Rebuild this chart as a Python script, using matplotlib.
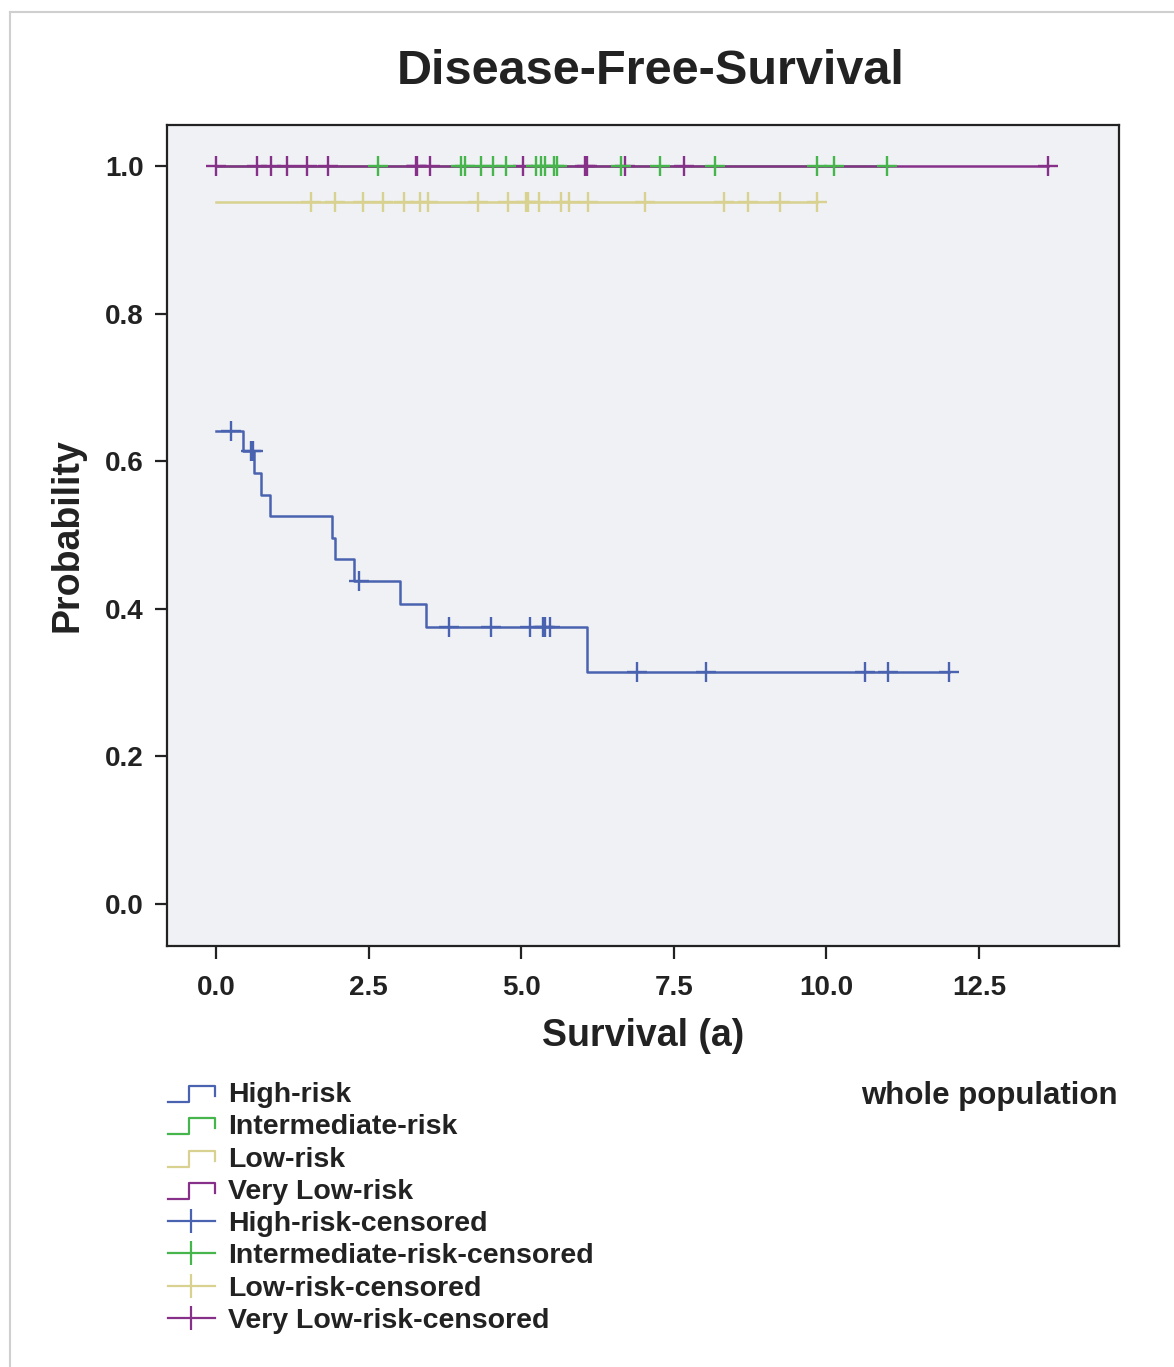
import numpy as np
import matplotlib
matplotlib.use("Agg")
import matplotlib.pyplot as plt
from matplotlib.lines import Line2D
from matplotlib.legend_handler import HandlerBase

plt.rcParams["font.family"] = ["Liberation Sans", "DejaVu Sans"]
plt.rcParams["font.weight"] = "bold"

# ── Data ────────────────────────────────────────────────────────
groups = ["High-risk", "Intermediate-risk", "Low-risk", "Very Low-risk"]
colors = ["#4a63b0", "#45b54c", "#d8d18f", "#86308a"]

# step (event) times and survival after each step
high_start = 0.641
high_event_t = [0.45, 0.63, 0.74, 0.88, 1.91, 1.95, 2.27, 3.01, 3.44, 6.07]
high_event_s = [0.614, 0.584, 0.555, 0.526, 0.496, 0.467, 0.438, 0.407, 0.376, 0.314]
high_cens = [0.24, 0.58, 0.61, 2.34, 3.81, 4.51, 5.14, 5.36, 5.39, 5.47,
             6.89, 8.03, 10.63, 11.01, 12.01]

inter_start = 1.0
inter_cens = [2.66, 4.01, 4.08, 4.35, 4.54, 4.75, 5.25, 5.32, 5.39, 5.54,
              5.59, 6.64, 7.28, 8.17, 9.85, 10.13, 10.99]

low_start = 0.952
low_cens = [1.55, 1.95, 2.41, 2.73, 3.08, 3.34, 3.48, 4.30, 4.79, 5.08,
            5.11, 5.30, 5.65, 5.78, 6.10, 7.03, 8.32, 8.71, 9.24, 9.85]

vlow_start = 1.0
vlow_cens = [0.0, 0.67, 0.91, 1.17, 1.49, 1.84, 3.27, 3.30, 3.51, 5.03,
             6.04, 6.07, 6.70, 7.67, 13.62]

series = [
    (high_start, high_event_t, high_event_s, high_cens),
    (inter_start, [], [], inter_cens),
    (low_start, [], [], low_cens),
    (vlow_start, [], [], vlow_cens),
]

x_ticks = [0.0, 2.5, 5.0, 7.5, 10.0, 12.5]
y_ticks = [0.0, 0.2, 0.4, 0.6, 0.8, 1.0]


class StepHandler(HandlerBase):
    def create_artists(self, legend, orig_handle, xdescent, ydescent,
                       width, height, fontsize, trans):
        x0 = -xdescent
        y0 = -ydescent
        xs = [x0, x0 + 0.45 * width, x0 + 0.45 * width, x0 + width, x0 + width]
        ys = [y0 + 0.0 * height, y0 + 0.0 * height, y0 + 0.8 * height,
              y0 + 0.8 * height, y0 + 0.3 * height]
        ln = Line2D(xs, ys, color=orig_handle.get_color(), lw=1.6,
                    transform=trans)
        return [ln]


# ── Figure ──────────────────────────────────────────────────────
fig = plt.figure(figsize=(11.74, 13.67), dpi=100)
ax = fig.add_axes([167 / 1174, 1 - 946 / 1367, 952 / 1174, 821 / 1367])
ax.set_facecolor("#eff1f4")

# outer frame of the original output
fig.add_artist(Line2D([10 / 1174, 1.0], [1 - 12 / 1367] * 2,
                      transform=fig.transFigure, color="#cfcfcf", lw=1.5))
fig.add_artist(Line2D([10 / 1174] * 2, [0.0, 1 - 12 / 1367],
                      transform=fig.transFigure, color="#cfcfcf", lw=1.5))

# lines first, then censor marks
for i in [1, 3, 2, 0]:
    start, ev_t, ev_s, cens = series[i]
    t = [0.0] + list(ev_t) + [max(cens)]
    s = [start] + list(ev_s) + [ev_s[-1] if ev_s else start]
    ax.step(t, s, where="post", color=colors[i], lw=1.8, zorder=2)

for i in [3, 1, 2, 0]:
    start, ev_t, ev_s, cens = series[i]
    t = np.array([0.0] + list(ev_t))
    s = np.array([start] + list(ev_s))
    idx = np.searchsorted(t, cens, side="right") - 1
    ax.plot(cens, s[idx], ls="none", marker="+", ms=15, mew=1.7,
            color=colors[i], zorder=3)

ax.set_xlim(-0.8, 14.79)
ax.set_ylim(-0.057, 1.056)
ax.set_xticks(x_ticks)
ax.set_xticklabels([f"{v:.1f}" for v in x_ticks])
ax.set_yticks(y_ticks)
ax.set_yticklabels([f"{v:.1f}" for v in y_ticks])
ax.tick_params(axis="both", length=9, width=1.6, color="#222222",
               labelsize=20, labelcolor="#222222")
ax.tick_params(axis="x", pad=12)
ax.tick_params(axis="y", pad=8)
for sp in ax.spines.values():
    sp.set_linewidth(1.6)
    sp.set_color("#222222")

ax.set_xlabel("Survival (a)", fontsize=27, fontweight="bold",
              color="#222222", labelpad=12)
ax.set_ylabel("Probability", fontsize=27, fontweight="bold",
              color="#222222", labelpad=14)
fig.text(651 / 1174, 1 - 71 / 1367, "Disease-Free-Survival", fontsize=35,
         fontweight="heavy", ha="center", va="center", color="#222222")

# legend
handles = [Line2D([], [], color=c) for c in colors]
handles += [Line2D([], [], color=c, lw=1.6, marker="|", ms=17, mew=1.6)
            for c in colors]
labels = groups + [g + "-censored" for g in groups]
hmap = {h: StepHandler() for h in handles[:4]}
leg = fig.legend(handles, labels, handler_map=hmap,
                 loc="upper left", bbox_to_anchor=(168 / 1174, 1 - 1082 / 1367),
                 frameon=False, fontsize=20.5, handlelength=1.65,
                 handletextpad=0.45, labelspacing=0.22, borderpad=0.0,
                 borderaxespad=0.0)
for txt in leg.get_texts():
    txt.set_color("#222222")
    txt.set_fontweight("bold")

fig.text(1118 / 1174, 1 - 1096 / 1367, "whole population", fontsize=22.5,
         fontweight="bold", ha="right", va="center", color="#222222")

fig.savefig("out.png", dpi=100, facecolor="white")
